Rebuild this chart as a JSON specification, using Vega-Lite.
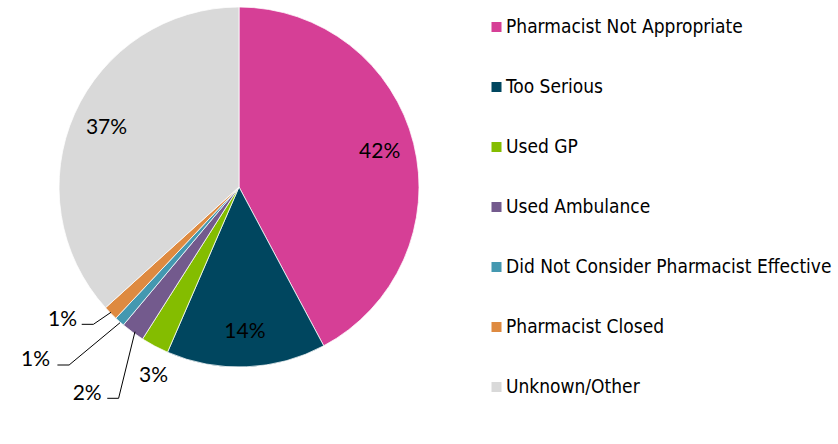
{
  "$schema": "https://vega.github.io/schema/vega-lite/v6.json",
  "width": 478,
  "height": 374,
  "autosize": {"type": "none"},
  "padding": {"left": 0, "top": 0, "right": 360, "bottom": 70},
  "background": "white",
  "config": {"view": {"stroke": null}, "font": "Lato"},
  "datasets": {
    "slices": [
      {"reason": "Pharmacist Not Appropriate", "share": 42.2, "label": "42%", "rank": 1},
      {"reason": "Too Serious", "share": 14.3, "label": "14%", "rank": 2},
      {"reason": "Used GP", "share": 2.5, "label": "3%", "rank": 3},
      {"reason": "Used Ambulance", "share": 2.1, "label": "2%", "rank": 4},
      {"reason": "Did Not Consider Pharmacist Effective", "share": 0.9, "label": "1%", "rank": 5},
      {"reason": "Pharmacist Closed", "share": 1.3, "label": "1%", "rank": 6},
      {"reason": "Unknown/Other", "share": 36.7, "label": "37%", "rank": 7}
    ],
    "callouts": [
      {"label": "3%", "lx": -0.394, "ly": -1.082},
      {"label": "2%", "lx": -0.763, "ly": -1.183},
      {"label": "1%", "lx": -1.05, "ly": -0.994},
      {"label": "1%", "lx": -0.9, "ly": -0.775}
    ],
    "leaders": [
      {"slice": "Pharmacist Closed", "seq": 1, "lx": -0.874, "ly": -0.763},
      {"slice": "Pharmacist Closed", "seq": 2, "lx": -0.809, "ly": -0.763},
      {"slice": "Pharmacist Closed", "seq": 3, "lx": -0.711, "ly": -0.696},
      {"slice": "Did Not Consider Pharmacist Effective", "seq": 1, "lx": -1.009, "ly": -0.989},
      {"slice": "Did Not Consider Pharmacist Effective", "seq": 2, "lx": -0.944, "ly": -0.989},
      {"slice": "Did Not Consider Pharmacist Effective", "seq": 3, "lx": -0.661, "ly": -0.754},
      {"slice": "Used Ambulance", "seq": 1, "lx": -0.732, "ly": -1.174},
      {"slice": "Used Ambulance", "seq": 2, "lx": -0.669, "ly": -1.174},
      {"slice": "Used Ambulance", "seq": 3, "lx": -0.578, "ly": -0.804}
    ]
  },
  "layer": [
    {
      "data": {"name": "slices"},
      "mark": {"type": "arc", "outerRadius": 180, "stroke": "white", "strokeWidth": 0.75},
      "encoding": {
        "theta": {"field": "share", "type": "quantitative", "stack": true},
        "order": {"field": "rank", "type": "quantitative"},
        "color": {
          "field": "reason",
          "type": "nominal",
          "sort": null,
          "scale": {
            "domain": ["Pharmacist Not Appropriate", "Too Serious", "Used GP", "Used Ambulance", "Did Not Consider Pharmacist Effective", "Pharmacist Closed", "Unknown/Other"],
            "range": ["#D63F96", "#00465F", "#84BD00", "#735A8D", "#4498B0", "#DE8A40", "#D9D9D9"]
          },
          "legend": {
            "title": null,
            "orient": "none",
            "legendX": 487,
            "legendY": 17,
            "symbolType": "square",
            "symbolSize": 100,
            "symbolStrokeWidth": 0,
            "labelFont": "DejaVu Sans Condensed",
            "labelFontSize": 19,
            "labelColor": "#000000",
            "labelLimit": 400,
            "rowPadding": 40,
            "clipHeight": 20,
            "labelOffset": 0,
            "padding": 0
          }
        }
      }
    },
    {
      "data": {"name": "slices"},
      "mark": {"type": "text", "radius": 145, "font": "Lato", "fontSize": 21, "color": "#000000"},
      "encoding": {
        "theta": {"field": "share", "type": "quantitative", "stack": true},
        "order": {"field": "rank", "type": "quantitative"},
        "text": {"condition": {"test": "datum.share >= 10", "field": "label"}, "value": ""}
      }
    },
    {
      "data": {"name": "leaders"},
      "mark": {"type": "line", "color": "#000000", "strokeWidth": 1},
      "encoding": {
        "x": {"field": "lx", "type": "quantitative", "scale": {"domain": [-1.328, 1.328], "nice": false, "zero": false}, "axis": null},
        "y": {"field": "ly", "type": "quantitative", "scale": {"domain": [-1.039, 1.039], "nice": false, "zero": false}, "axis": null},
        "detail": {"field": "slice", "type": "nominal"},
        "order": {"field": "seq", "type": "quantitative"}
      }
    },
    {
      "data": {"name": "callouts"},
      "mark": {"type": "text", "align": "right", "baseline": "alphabetic", "font": "Lato", "fontSize": 21, "color": "#000000"},
      "encoding": {
        "x": {"field": "lx", "type": "quantitative", "scale": {"domain": [-1.328, 1.328], "nice": false, "zero": false}, "axis": null},
        "y": {"field": "ly", "type": "quantitative", "scale": {"domain": [-1.039, 1.039], "nice": false, "zero": false}, "axis": null},
        "text": {"field": "label"}
      }
    }
  ]
}
